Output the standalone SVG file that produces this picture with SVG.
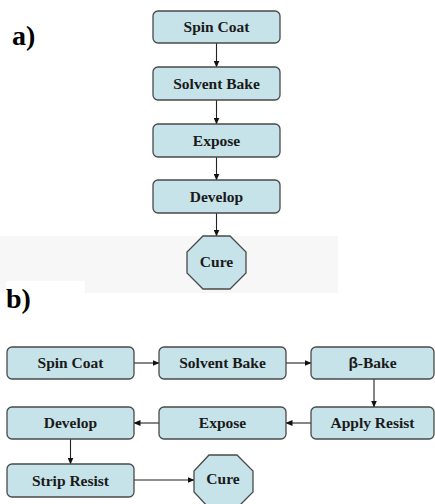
<svg xmlns="http://www.w3.org/2000/svg" width="435" height="504" viewBox="0 0 435 504">
<defs>
<marker id="ah" markerWidth="7" markerHeight="6" refX="6.5" refY="3" orient="auto" markerUnits="userSpaceOnUse">
<path d="M0,0 L7,3 L0,6 Z" fill="#111"/>
</marker>
<style>
.box{fill:#c6e3e9;stroke:#4a4a4a;stroke-width:1.3}
.t{font-family:"Liberation Serif","Times New Roman",serif;font-weight:bold;font-size:15.5px;fill:#1a1a1a;text-anchor:middle}
.lbl{font-family:"Liberation Serif","Times New Roman",serif;font-weight:bold;font-size:28px;fill:#000}
.c{stroke:#222;stroke-width:1.1;fill:none;marker-end:url(#ah)}
.beta{font-family:"Liberation Sans",Arial,sans-serif}
</style>
</defs>
<rect width="435" height="504" fill="#fff"/>
<rect x="0" y="236" width="338" height="57" fill="#f7f7f7"/>
<rect x="6" y="281" width="79" height="12" fill="#fff"/>
<text class="lbl" x="12" y="45">a)</text>
<text class="lbl" x="6" y="308">b)</text>
<g id="connectors">
<line class="c" x1="216.5" y1="43" x2="216.5" y2="67"/>
<line class="c" x1="216.5" y1="100" x2="216.5" y2="124"/>
<line class="c" x1="216.5" y1="157" x2="216.5" y2="180"/>
<line class="c" x1="216.5" y1="213" x2="216.5" y2="236"/>
<line class="c" x1="134" y1="363" x2="159" y2="363"/>
<line class="c" x1="286" y1="363" x2="311" y2="363"/>
<line class="c" x1="374" y1="379" x2="374" y2="407"/>
<line class="c" x1="311" y1="423" x2="286" y2="423"/>
<line class="c" x1="159" y1="423" x2="134" y2="423"/>
<line class="c" x1="70.5" y1="439" x2="70.5" y2="464"/>
<line class="c" x1="134" y1="480" x2="194" y2="480"/>
</g>
<g id="a-spin"><rect class="box" x="153" y="11" width="127" height="32" rx="5"/><text class="t" x="216.5" y="32">Spin Coat</text></g>
<g id="a-solvent"><rect class="box" x="153" y="67" width="127" height="33" rx="5"/><text class="t" x="216.5" y="88.5">Solvent Bake</text></g>
<g id="a-expose"><rect class="box" x="153" y="124" width="127" height="33" rx="5"/><text class="t" x="216.5" y="145.5">Expose</text></g>
<g id="a-develop"><rect class="box" x="153" y="180" width="127" height="33" rx="5"/><text class="t" x="216.5" y="201.5">Develop</text></g>
<g id="a-cure"><polygon class="box" points="203,236 230,236 246,252 246,273 230,289 203,289 187,273 187,252"/><text class="t" x="216.5" y="267">Cure</text></g>
<g id="b-spin"><rect class="box" x="7" y="347" width="127" height="32" rx="5"/><text class="t" x="70.5" y="368">Spin Coat</text></g>
<g id="b-solvent"><rect class="box" x="159" y="347" width="127" height="32" rx="5"/><text class="t" x="222.5" y="368">Solvent Bake</text></g>
<g id="b-beta"><rect class="box" x="311" y="347" width="123" height="32" rx="5"/><text class="t" x="372.5" y="368"><tspan class="beta">β</tspan>-Bake</text></g>
<g id="b-develop"><rect class="box" x="7" y="407" width="127" height="32" rx="5"/><text class="t" x="70.5" y="428">Develop</text></g>
<g id="b-expose"><rect class="box" x="159" y="407" width="127" height="32" rx="5"/><text class="t" x="222.5" y="428">Expose</text></g>
<g id="b-apply"><rect class="box" x="311" y="407" width="123" height="32" rx="5"/><text class="t" x="372.5" y="428">Apply Resist</text></g>
<g id="b-strip"><rect class="box" x="7" y="464" width="127" height="33" rx="5"/><text class="t" x="70.5" y="485.5">Strip Resist</text></g>
<g id="b-cure"><polygon class="box" points="209,455 237,455 253,471 253,492 237,508 209,508 194,492 194,471"/><text class="t" x="223" y="484">Cure</text></g>
</svg>
